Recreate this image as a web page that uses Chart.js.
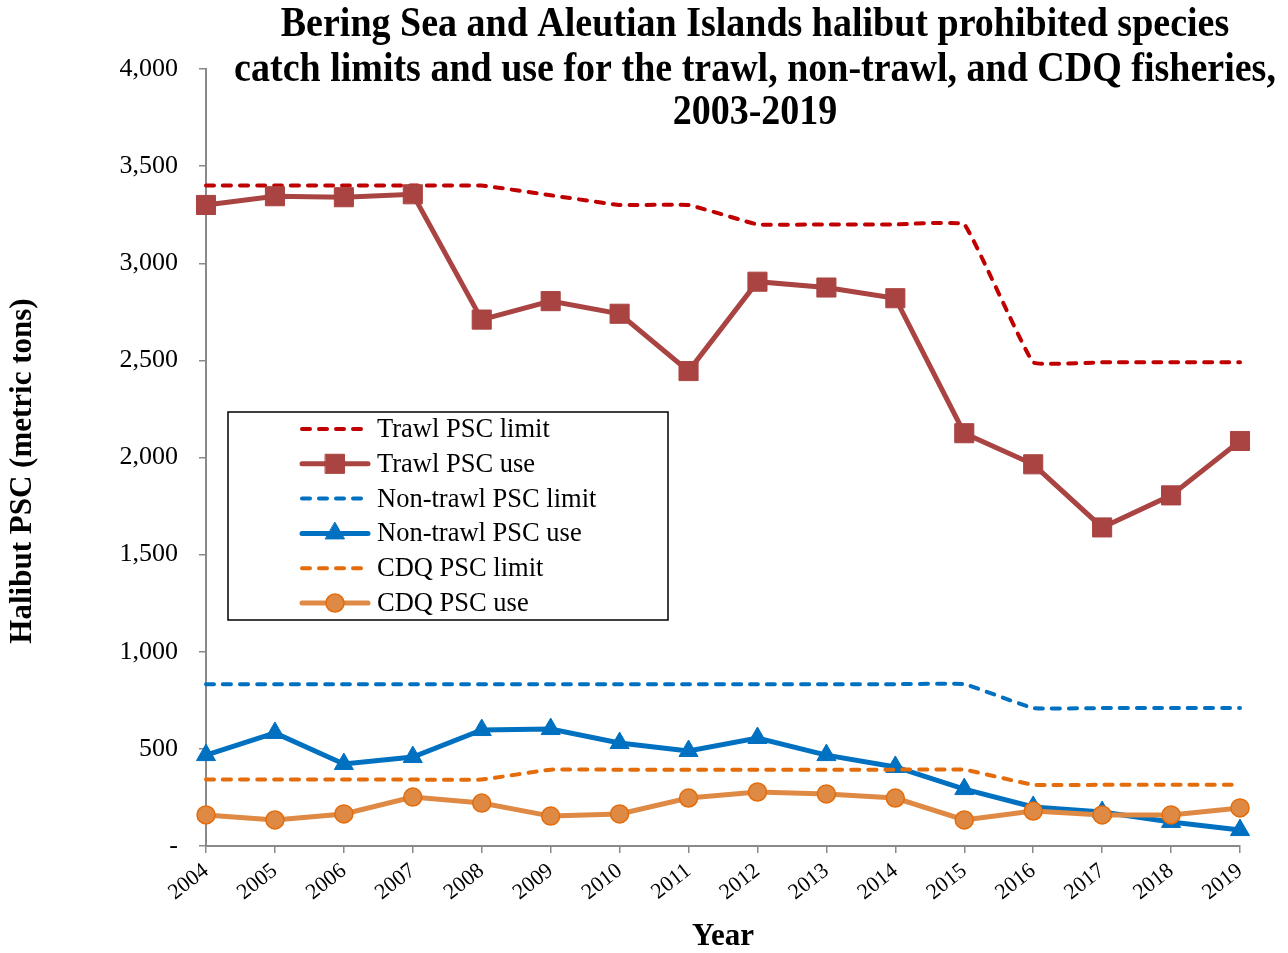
<!DOCTYPE html>
<html>
<head>
<meta charset="utf-8">
<script src="https://cdn.jsdelivr.net/npm/chart.js@4"></script>
<style>
  body { margin:0; background:#fff; }
  #wrap { width:1288px; height:953px; }
</style>
</head>
<body>
<div id="wrap"><canvas id="pscChart" width="1288" height="953"></canvas></div>
<script>
// values (metric tons)
const years = ['2004','2005','2006','2007','2008','2009','2010','2011','2012','2013','2014','2015','2016','2017','2018','2019'];
const trawlLimit = [3400,3400,3400,3400,3400,3350,3300,3300,3200,3200,3200,3200,2490,2490,2490,2490];
const trawlUse = [3300,3345,3340,3355,2710,2805,2740,2445,2905,2875,2820,2125,1965,1640,1805,2085];
const nonTrawlLimit = [833,833,833,833,833,833,833,833,833,833,833,833,710,710,710,710];
const nonTrawlUse = [468,582,422,458,597,602,530,489,556,468,407,293,201,175,124,82];
const cdqLimit = [342,342,342,342,342,393,393,393,393,393,393,393,315,315,315,315];
const cdqUse = [160,134,165,252,221,154,165,247,278,268,247,134,180,160,160,196];

const titleLines = [
  'Bering Sea and Aleutian Islands halibut prohibited species',
  'catch limits and use for the trawl, non-trawl, and CDQ fisheries,',
  '2003-2019'
];
const yTitle = 'Halibut PSC (metric tons)';

const SERIF = '"Liberation Serif", "Times New Roman", serif';
const AXIS_GRAY = '#898989';

function limitSet(label, data, color, order) {
  return { label, data, borderColor:color, backgroundColor:color, borderWidth:4,
    borderDash:[8,9], borderCapStyle:'round', pointRadius:0, pointHoverRadius:0, fill:false,
    tension:0.08, order };
}
function useSet(label, data, color, fillColor, style, radius, order) {
  return { label, data, borderColor:color, backgroundColor:fillColor, borderWidth:5,
    pointStyle:style, pointRadius:radius, pointHoverRadius:radius,
    pointBorderColor:color, pointBackgroundColor:fillColor, pointBorderWidth:1,
    tension:0, fill:false, order };
}

const datasets = [
  limitSet('Trawl PSC limit', trawlLimit, '#C00000', 5),
  useSet('Trawl PSC use', trawlUse, '#A94442', '#A94442', 'rect', 13.5, 4),
  limitSet('Non-trawl PSC limit', nonTrawlLimit, '#0070C0', 3),
  useSet('Non-trawl PSC use', nonTrawlUse, '#0070C0', '#0070C0', 'triangle', 11, 2),
  limitSet('CDQ PSC limit', cdqLimit, '#E46C0A', 1),
  useSet('CDQ PSC use', cdqUse, '#DE8944', '#DE8944', 'circle', 9, 0)
];
datasets[5].pointBorderColor = '#E46C0A';
datasets[5].pointBorderWidth = 1.5;

// title and y title drawn by hand, the title overlaps the plot like the original
const titlePlugin = {
  id:'bigTitle',
  afterDraw(chart) {
    const ctx = chart.ctx;
    ctx.save();
    ctx.fillStyle = '#000';
    ctx.font = 'bold 38px ' + SERIF;
    ctx.textAlign = 'center';
    ctx.textBaseline = 'middle';
    const ys = [25, 70, 113];
    titleLines.forEach((t,i) => {
      ctx.save();
      ctx.translate(755, ys[i]);
      ctx.scale(1, 1.1);
      ctx.fillText(t, 0, 0);
      ctx.restore();
    });
    ctx.save();
    ctx.translate(23, 471);
    ctx.rotate(-Math.PI/2);
    ctx.font = 'bold 31px ' + SERIF;
    ctx.scale(1, 1.05);
    ctx.fillText(yTitle, 0, 0);
    ctx.restore();
    ctx.restore();
  }
};

// boxed legend inside the plot
function drawMarker(ctx, ds, x, y) {
  const r = ds.pointRadius;
  ctx.fillStyle = ds.pointBackgroundColor;
  ctx.strokeStyle = ds.pointBorderColor;
  ctx.lineWidth = ds.pointBorderWidth;
  ctx.setLineDash([]);
  ctx.beginPath();
  if (ds.pointStyle === 'rect') {
    const s = Math.SQRT1_2 * r;
    ctx.rect(x - s, y - s, 2*s, 2*s);
  } else if (ds.pointStyle === 'triangle') {
    for (let k=0; k<3; k++) {
      const a = k * 2*Math.PI/3;
      const px = x + Math.sin(a)*r, py = y - Math.cos(a)*r;
      if (k===0) ctx.moveTo(px,py); else ctx.lineTo(px,py);
    }
    ctx.closePath();
  } else {
    ctx.arc(x, y, r, 0, Math.PI*2);
  }
  ctx.fill();
  ctx.stroke();
}

const legendPlugin = {
  id:'boxLegend',
  afterDraw(chart) {
    const ctx = chart.ctx;
    ctx.save();
    ctx.fillStyle = '#fff';
    ctx.fillRect(228, 412, 440, 208);
    ctx.strokeStyle = '#000';
    ctx.lineWidth = 1.5;
    ctx.setLineDash([]);
    ctx.strokeRect(228, 412, 440, 208);
    ctx.font = '26.5px ' + SERIF;
    ctx.textBaseline = 'middle';
    ctx.textAlign = 'left';
    chart.data.datasets.forEach((ds, i) => {
      const y = 429 + i*34.8;
      ctx.strokeStyle = ds.borderColor;
      ctx.lineWidth = ds.borderWidth;
      ctx.lineCap = 'round';
      ctx.setLineDash(ds.borderDash || []);
      ctx.beginPath();
      ctx.moveTo(302, y);
      ctx.lineTo(368, y);
      ctx.stroke();
      if (ds.pointRadius) drawMarker(ctx, ds, 335, y);
      ctx.fillStyle = '#000';
      ctx.fillText(ds.label, 377, y + 1);
    });
    ctx.restore();
  }
};

const chart = new Chart(document.getElementById('pscChart').getContext('2d'), {
  type:'line',
  data:{ labels:years, datasets },
  options:{
    responsive:false,
    animation:false,
    layout:{ padding:{ top:69, right:48, bottom:0, left:0 } },
    plugins:{ legend:{ display:false }, tooltip:{ enabled:false }, title:{ display:false } },
    scales:{
      x:{
        offset:false,
        afterFit(scale){ scale.height = 107; },
        grid:{ display:true, drawOnChartArea:false, drawTicks:true, tickLength:7, color:AXIS_GRAY, lineWidth:1.5 },
        border:{ display:true, color:AXIS_GRAY, width:2 },
        ticks:{ color:'#000', font:{ family:SERIF, size:22 }, minRotation:38, maxRotation:38, padding:5, autoSkip:false },
        title:{ display:true, text:'Year', color:'#000', font:{ family:SERIF, size:31, weight:'bold' }, padding:{ top:0, bottom:-3 } }
      },
      y:{
        min:0, max:4000,
        afterFit(scale){ scale.width = 206; },
        grid:{ display:true, drawOnChartArea:false, drawTicks:true, tickLength:7, color:AXIS_GRAY, lineWidth:1.5 },
        border:{ display:true, color:AXIS_GRAY, width:2 },
        ticks:{ stepSize:500, color:'#000', font:{ family:SERIF, size:26 }, padding:21,
          callback:v => v === 0 ? '-' : v.toLocaleString('en-US') }
      }
    }
  },
  plugins:[titlePlugin, legendPlugin]
});
</script>
</body>
</html>
